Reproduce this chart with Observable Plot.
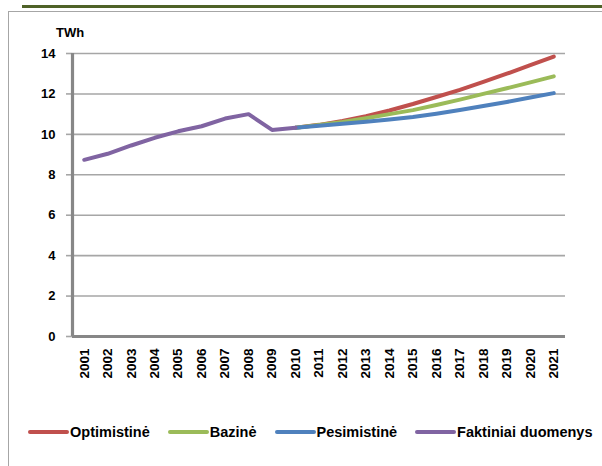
<!DOCTYPE html>
<html>
<head>
<meta charset="utf-8">
<script src="https://cdn.jsdelivr.net/npm/d3@7"></script>
<script src="https://cdn.jsdelivr.net/npm/@observablehq/plot@0.6"></script>
<style>
  html, body { margin: 0; padding: 0; background: #fff; }
  #wrap { position: relative; width: 602px; height: 466px; overflow: hidden; font-family: "Liberation Sans", Arial, sans-serif; }
  #topline { position: absolute; left: 22px; top: 5px; width: 580px; height: 2.5px; background: #4f6228; }
  #frame { position: absolute; left: 8px; top: 11px; width: 600px; height: 470px; border-left: 1.5px solid #a6a6a6; border-top: 1.5px solid #a6a6a6; box-sizing: border-box; }
  #chart { position: absolute; left: 0; top: 0; }
  #unit { position: absolute; left: 56px; top: 25px; font-size: 13px; font-weight: bold; color: #000; }
  #legend { position: absolute; left: 28px; top: 424px; display: flex; align-items: center; font-size: 14.5px; font-weight: bold; color: #000; white-space: nowrap; }
  .item { display: flex; align-items: center; margin-right: 18px; }
  .sw { width: 41px; height: 4px; border-radius: 2px; margin-right: 1px; }
</style>
</head>
<body>
<div id="wrap">
  <div id="topline"></div>
  <div id="frame"></div>
  <div id="chart"></div>
  <div id="unit">TWh</div>
  <div id="legend"></div>
</div>
<script>
// ---- data ----
const years = [2001, 2002, 2003, 2004, 2005, 2006, 2007, 2008, 2009, 2010, 2011,
               2012, 2013, 2014, 2015, 2016, 2017, 2018, 2019, 2020, 2021];
const yTicks = [0, 2, 4, 6, 8, 10, 12, 14];

const actualYears = [2001, 2002, 2003, 2004, 2005, 2006, 2007, 2008, 2009, 2010];
const actualValues = [8.74, 9.04, 9.45, 9.83, 10.15, 10.4, 10.78, 11.0, 10.22, 10.33];

const projYears = [2010, 2011, 2012, 2013, 2014, 2015, 2016, 2017, 2018, 2019, 2020, 2021];
const optimistic = [10.33, 10.47, 10.66, 10.9, 11.18, 11.5, 11.85, 12.2, 12.6, 13.0, 13.42, 13.85];
const base       = [10.33, 10.46, 10.61, 10.8, 11.0, 11.2, 11.45, 11.72, 12.0, 12.28, 12.57, 12.87];
const pessimistic= [10.33, 10.42, 10.52, 10.62, 10.74, 10.86, 11.02, 11.2, 11.4, 11.6, 11.82, 12.04];

const seriesNames = ["Optimistinė", "Bazinė", "Pesimistinė", "Faktiniai duomenys"];
const seriesColors = ["#c0504d", "#9bbb59", "#4f81bd", "#8064a2"];

// ---- build tables ----
const rows = [];
[optimistic, base, pessimistic].forEach((vals, i) => {
  projYears.forEach((yr, j) => rows.push({series: seriesNames[i], year: yr, value: vals[j]}));
});
actualYears.forEach((yr, j) => rows.push({series: seriesNames[3], year: yr, value: actualValues[j]}));

const color = {domain: seriesNames, range: seriesColors};

const chart = Plot.plot({
  width: 602,
  height: 400,
  marginTop: 53,
  marginBottom: 64,
  marginLeft: 72,
  marginRight: 37,
  x: {domain: [2000.5, 2021.5], axis: null},
  y: {domain: [0, 14], axis: null},
  color,
  style: {fontFamily: "'Liberation Sans', Arial, sans-serif", background: "transparent", overflow: "visible"},
  marks: [
    Plot.ruleY(yTicks.filter(d => d > 0), {stroke: "#a6a6a6", strokeWidth: 1.6}),
    Plot.axisY(yTicks, {
      ticks: yTicks, tickSize: 6, tickPadding: 11, label: null,
      stroke: "#a6a6a6", strokeWidth: 1.6, strokeOpacity: 1,
      fontSize: 13, fontWeight: "bold", fill: "#000"
    }),
    Plot.ruleX([2000.5], {y1: 0, y2: 14, stroke: "#878787", strokeWidth: 3.2}),
    Plot.ruleY([0], {stroke: "#878787", strokeWidth: 3.2}),
    Plot.line(rows, {
      x: "year", y: "value", z: "series", stroke: "series",
      strokeWidth: 4, curve: "linear", strokeLinecap: "round", strokeLinejoin: "round"
    }),
    Plot.text(years, {
      x: d => d, y: 0, text: d => String(d), rotate: -90,
      textAnchor: "end", dy: 12, fontSize: 13.5, fontWeight: 600, fill: "#000"
    })
  ]
});
document.getElementById("chart").appendChild(chart);

// ---- legend ----
const legend = document.getElementById("legend");
seriesNames.forEach((name, i) => {
  const item = document.createElement("div");
  item.className = "item";
  const sw = document.createElement("div");
  sw.className = "sw";
  sw.style.background = seriesColors[i];
  const label = document.createElement("span");
  label.textContent = name;
  item.appendChild(sw);
  item.appendChild(label);
  legend.appendChild(item);
});
</script>
</body>
</html>
